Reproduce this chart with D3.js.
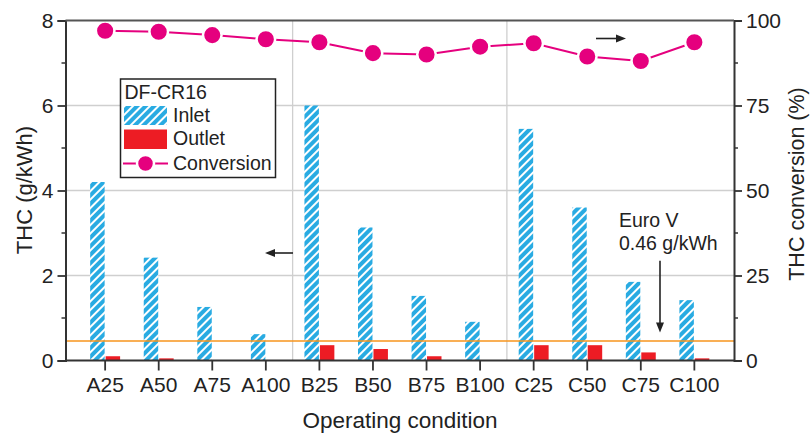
<!DOCTYPE html>
<html>
<head>
<meta charset="utf-8">
<script src="https://cdn.jsdelivr.net/npm/d3@7"></script>
<style>
  html, body { margin: 0; padding: 0; background: #fff; }
  svg { display: block; font-family: "Liberation Sans", Arial, sans-serif; }
</style>
</head>
<body>
<svg id="chart" width="810" height="433"></svg>
<script>
// Operating conditions (load points A/B/C at 25–100 %)
const categories = ["A25", "A50", "A75", "A100", "B25", "B50", "B75", "B100", "C25", "C50", "C75", "C100"];
// THC emissions, g/kWh
const inlet  = [4.2, 2.42, 1.26, 0.62, 6.0, 3.13, 1.52, 0.91, 5.45, 3.6, 1.85, 1.42];
const outlet = [0.1, 0.05, 0, 0, 0.36, 0.27, 0.1, 0, 0.36, 0.36, 0.19, 0.05];
// THC conversion, %
const conversion = [97.0, 96.7, 95.7, 94.5, 93.6, 90.4, 90.0, 92.3, 93.3, 89.4, 88.1, 93.6];
// Euro V limit, g/kWh
const euroV = 0.46;

const leftTicks = [0, 2, 4, 6, 8];
const leftMinor = [1, 3, 5, 7];
const rightTicks = [0, 25, 50, 75, 100];
const rightMinor = [12.5, 37.5, 62.5, 87.5];
const groupBreaks = [["A100", "B25"], ["B100", "C25"]];

const C = {
  text: "#222",
  axis: "#333",
  grid: "#cfcfcf",
  blue: "#29abe2",
  red: "#ed1c24",
  magenta: "#e5007e",
  orange: "#f7941d"
};

const svg = d3.select("#chart");
const L = 65.5, R = 734, T = 20.5, B = 360.5;

const x = d3.scaleBand().domain(categories).range([L, R]).paddingInner(0).paddingOuter(0.24);
const y = d3.scaleLinear().domain([0, 8]).range([B, T]);
const y2 = d3.scaleLinear().domain([0, 100]).range([B, T]);
const cx = c => x(c) + x.bandwidth() / 2;
const barW = x.bandwidth() * 0.27;

// hatch for inlet bars
const defs = svg.append("defs");
const pat = defs.append("pattern")
  .attr("id", "hatch").attr("patternUnits", "userSpaceOnUse")
  .attr("width", 6).attr("height", 6)
  .attr("patternTransform", "rotate(45)");
pat.append("rect").attr("width", 6).attr("height", 6).attr("fill", C.blue);
pat.append("line").attr("x1", 1).attr("y1", 0).attr("x2", 1).attr("y2", 6)
  .attr("stroke", "#fff").attr("stroke-width", 2);

// grid
const g = svg.append("g");
g.selectAll(".hgrid").data([2, 4, 6]).join("line")
  .attr("x1", L).attr("x2", R).attr("y1", d => y(d)).attr("y2", d => y(d))
  .attr("stroke", C.grid).attr("stroke-width", 1.3);
g.selectAll(".vgrid").data(groupBreaks).join("line")
  .attr("x1", d => (cx(d[0]) + cx(d[1])) / 2).attr("x2", d => (cx(d[0]) + cx(d[1])) / 2)
  .attr("y1", T).attr("y2", B)
  .attr("stroke", C.grid).attr("stroke-width", 1.3);

// bars
g.selectAll(".inlet").data(categories).join("rect")
  .attr("x", (d, i) => cx(d) - barW - 0.5).attr("width", barW)
  .attr("y", (d, i) => y(inlet[i])).attr("height", (d, i) => y(0) - y(inlet[i]))
  .attr("fill", "url(#hatch)");
g.selectAll(".outlet").data(categories).join("rect")
  .attr("x", (d, i) => cx(d) + 0.5).attr("width", barW)
  .attr("y", (d, i) => y(outlet[i])).attr("height", (d, i) => y(0) - y(outlet[i]))
  .attr("fill", C.red);

// Euro V limit
g.append("line").attr("x1", L).attr("x2", R).attr("y1", y(euroV)).attr("y2", y(euroV))
  .attr("stroke", C.orange).attr("stroke-width", 1.6);

// conversion line
const line = d3.line().x((d, i) => cx(categories[i])).y(d => y2(d));
g.append("path").datum(conversion).attr("d", line)
  .attr("fill", "none").attr("stroke", C.magenta).attr("stroke-width", 2);
g.selectAll(".pt").data(conversion).join("circle")
  .attr("cx", (d, i) => cx(categories[i])).attr("cy", d => y2(d)).attr("r", 9.3)
  .attr("fill", C.magenta).attr("stroke", "#fff").attr("stroke-width", 2.5);

// axes
const fs = 21;
const axL = svg.append("g").attr("transform", `translate(${L},0)`)
  .call(d3.axisLeft(y).tickValues(leftTicks).tickFormat(d3.format("d")).tickSize(8).tickPadding(4));
axL.selectAll(".minor").data(leftMinor).join("line")
  .attr("x1", -4).attr("x2", 0).attr("y1", d => y(d)).attr("y2", d => y(d))
  .attr("stroke", C.axis).attr("stroke-width", 1.5);

const axR = svg.append("g").attr("transform", `translate(${R},0)`)
  .call(d3.axisRight(y2).tickValues(rightTicks).tickFormat(d3.format("d")).tickSize(8).tickPadding(4));
axR.selectAll(".minor").data(rightMinor).join("line")
  .attr("x1", 0).attr("x2", 4).attr("y1", d => y2(d)).attr("y2", d => y2(d))
  .attr("stroke", C.axis).attr("stroke-width", 1.5);

const axB = svg.append("g").attr("transform", `translate(0,${B})`)
  .call(d3.axisBottom(x).tickSize(10).tickPadding(7));

[axL, axR, axB].forEach(a => {
  a.select(".domain").attr("stroke", C.axis).attr("stroke-width", 2);
  a.selectAll(".tick line").attr("stroke", C.axis).attr("stroke-width", 1.8);
  a.selectAll(".tick text").attr("fill", C.text).attr("font-size", fs)
    .attr("font-family", "Liberation Sans, Arial, sans-serif");
});
axB.select(".domain").attr("d", `M${L},0H${R}`);

// top frame
svg.append("line").attr("x1", L).attr("x2", R).attr("y1", T).attr("y2", T)
  .attr("stroke", "#555").attr("stroke-width", 2);

// axis titles
svg.append("text").attr("transform", `translate(32,190) rotate(-90)`)
  .attr("text-anchor", "middle").attr("font-size", 22).attr("fill", C.text)
  .text("THC (g/kWh)");
svg.append("text").attr("transform", `translate(804,184) rotate(-90)`)
  .attr("text-anchor", "middle").attr("font-size", 21.5).attr("fill", C.text)
  .text("THC conversion (%)");
svg.append("text").attr("x", 400).attr("y", 428)
  .attr("text-anchor", "middle").attr("font-size", 22.5).attr("fill", C.text)
  .text("Operating condition");

// series-to-axis arrows
function arrow(x1, y1, x2, y2) {
  const ang = Math.atan2(y2 - y1, x2 - x1);
  svg.append("line").attr("x1", x1).attr("y1", y1).attr("x2", x2 - 6 * Math.cos(ang)).attr("y2", y2 - 6 * Math.sin(ang))
    .attr("stroke", C.text).attr("stroke-width", 1.6);
  const hl = 10, hw = 4;
  const bx = x2 - hl * Math.cos(ang), by = y2 - hl * Math.sin(ang);
  const px = -Math.sin(ang) * hw, py = Math.cos(ang) * hw;
  svg.append("path").attr("d", `M${x2},${y2}L${bx + px},${by + py}L${bx - px},${by - py}Z`).attr("fill", C.text);
}
arrow(293, 253, 265, 253);
arrow(596, 38.5, 626, 38.5);
arrow(660, y(2.35), 660, y(0.66));

// Euro V label
svg.append("text").attr("x", 619).attr("y", 227).attr("font-size", 19.5).attr("fill", C.text).text("Euro V");
svg.append("text").attr("x", 619).attr("y", 250).attr("font-size", 19.5).attr("fill", C.text).text(`${euroV} g/kWh`);

// legend
const lg = svg.append("g");
lg.append("rect").attr("x", 120.5).attr("y", 79).attr("width", 155).attr("height", 98.5)
  .attr("fill", "#fff").attr("stroke", "#222").attr("stroke-width", 1.5);
lg.append("text").attr("x", 124.5).attr("y", 98.5).attr("font-size", 19.5).attr("fill", C.text).text("DF-CR16");
lg.append("rect").attr("x", 124).attr("y", 106).attr("width", 43).attr("height", 19).attr("fill", "url(#hatch)");
lg.append("text").attr("x", 173).attr("y", 122).attr("font-size", 19.5).attr("fill", C.text).text("Inlet");
lg.append("rect").attr("x", 124).attr("y", 129.5).attr("width", 43).attr("height", 19.5).attr("fill", C.red);
lg.append("text").attr("x", 173).attr("y", 145).attr("font-size", 19.5).attr("fill", C.text).text("Outlet");
lg.append("line").attr("x1", 123).attr("x2", 168).attr("y1", 163.5).attr("y2", 163.5)
  .attr("stroke", C.magenta).attr("stroke-width", 2);
lg.append("circle").attr("cx", 145.5).attr("cy", 163.5).attr("r", 8.5)
  .attr("fill", C.magenta).attr("stroke", "#fff").attr("stroke-width", 2.5);
lg.append("text").attr("x", 173).attr("y", 170).attr("font-size", 19.5).attr("fill", C.text).text("Conversion");
</script>
</body>
</html>
